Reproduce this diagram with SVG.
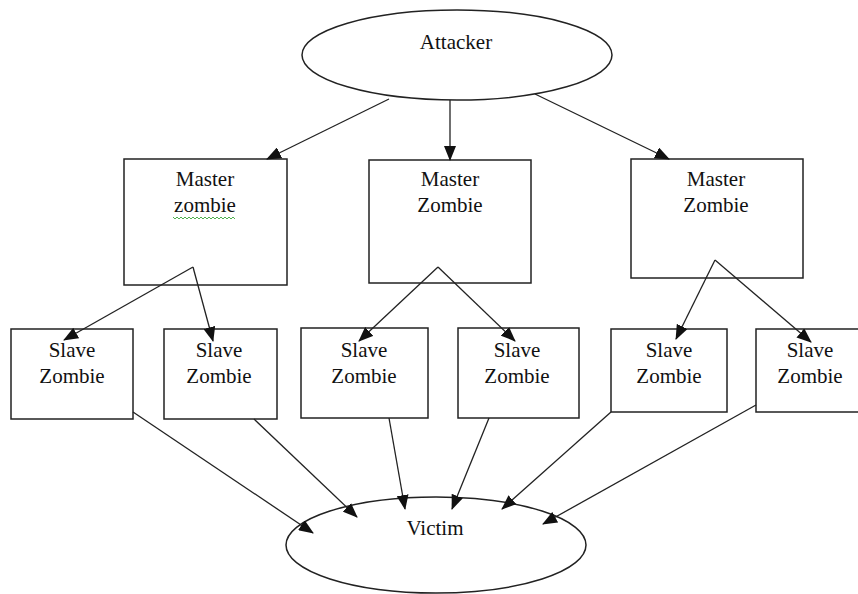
<svg xmlns="http://www.w3.org/2000/svg" width="858" height="594" viewBox="0 0 858 594">
<defs>
<marker id="ah" markerUnits="userSpaceOnUse" markerWidth="15" markerHeight="12" viewBox="0 0 15 12" refX="14" refY="6" orient="auto">
<path d="M0,0 L15,6 L0,12 Z" fill="#111"/>
</marker>
<style>
.node{fill:#fff;stroke:#222;stroke-width:1.5}
.t{font-family:"Liberation Serif","Times New Roman",serif;font-size:21px;fill:#111;text-anchor:middle}
.a{stroke:#222;stroke-width:1.3;fill:none;marker-end:url(#ah)}
</style>
</defs>
<rect width="858" height="594" fill="#fff"/>
<g id="attacker">
<ellipse class="node" cx="457" cy="55" rx="155" ry="45"/>
<text class="t" x="456" y="49">Attacker</text>
</g>
<g id="master1">
<rect class="node" x="124" y="159" width="163" height="126"/>
<text class="t" x="205" y="186">Master</text>
<text class="t" x="205" y="212">zombie</text>
<path d="M173,217 l2,2 l2,-2 l2,2 l2,-2 l2,2 l2,-2 l2,2 l2,-2 l2,2 l2,-2 l2,2 l2,-2 l2,2 l2,-2 l2,2 l2,-2 l2,2 l2,-2 l2,2 l2,-2 l2,2 l2,-2 l2,2 l2,-2 l2,2 l2,-2 l2,2 l2,-2 l2,2 l2,-2 l2,2" fill="none" stroke="#3aa63a" stroke-width="0.9"/>
</g>
<g id="master2">
<rect class="node" x="369" y="160" width="162" height="123"/>
<text class="t" x="450" y="186">Master</text>
<text class="t" x="450" y="212">Zombie</text>
</g>
<g id="master3">
<rect class="node" x="631" y="159" width="172" height="119"/>
<text class="t" x="716" y="186">Master</text>
<text class="t" x="716" y="212">Zombie</text>
</g>
<g id="slave1">
<rect class="node" x="11" y="329" width="122" height="90"/>
<text class="t" x="72" y="357">Slave</text>
<text class="t" x="72" y="383">Zombie</text>
</g>
<g id="slave2">
<rect class="node" x="164" y="329" width="113" height="90"/>
<text class="t" x="219" y="357">Slave</text>
<text class="t" x="219" y="383">Zombie</text>
</g>
<g id="slave3">
<rect class="node" x="301" y="328" width="127" height="90"/>
<text class="t" x="364" y="357">Slave</text>
<text class="t" x="364" y="383">Zombie</text>
</g>
<g id="slave4">
<rect class="node" x="458" y="328" width="121" height="90"/>
<text class="t" x="517" y="357">Slave</text>
<text class="t" x="517" y="383">Zombie</text>
</g>
<g id="slave5">
<rect class="node" x="611" y="329" width="116" height="83"/>
<text class="t" x="669" y="357">Slave</text>
<text class="t" x="669" y="383">Zombie</text>
</g>
<g id="slave6">
<rect class="node" x="756" y="329" width="110" height="83"/>
<text class="t" x="810" y="357">Slave</text>
<text class="t" x="810" y="383">Zombie</text>
</g>
<g id="victim">
<ellipse class="node" cx="436" cy="545" rx="150" ry="48"/>
<text class="t" x="435" y="535">Victim</text>
</g>
<g id="connectors">
<line class="a" x1="389" y1="99" x2="267" y2="159"/>
<line class="a" x1="450" y1="100" x2="450" y2="160"/>
<line class="a" x1="535" y1="94" x2="669" y2="159"/>
<line class="a" x1="193" y1="267" x2="64" y2="340"/>
<line class="a" x1="193" y1="267" x2="213" y2="341"/>
<line class="a" x1="438" y1="267" x2="359" y2="341"/>
<line class="a" x1="438" y1="267" x2="515" y2="341"/>
<line class="a" x1="715" y1="260" x2="676" y2="339"/>
<line class="a" x1="715" y1="260" x2="811" y2="342"/>
<line class="a" x1="133" y1="412" x2="313" y2="533"/>
<line class="a" x1="254" y1="419" x2="357" y2="517"/>
<line class="a" x1="389" y1="418" x2="405" y2="509"/>
<line class="a" x1="489" y1="418" x2="452" y2="509"/>
<line class="a" x1="611" y1="412" x2="502" y2="509"/>
<line class="a" x1="756" y1="405" x2="543" y2="524"/>
</g>
</svg>
